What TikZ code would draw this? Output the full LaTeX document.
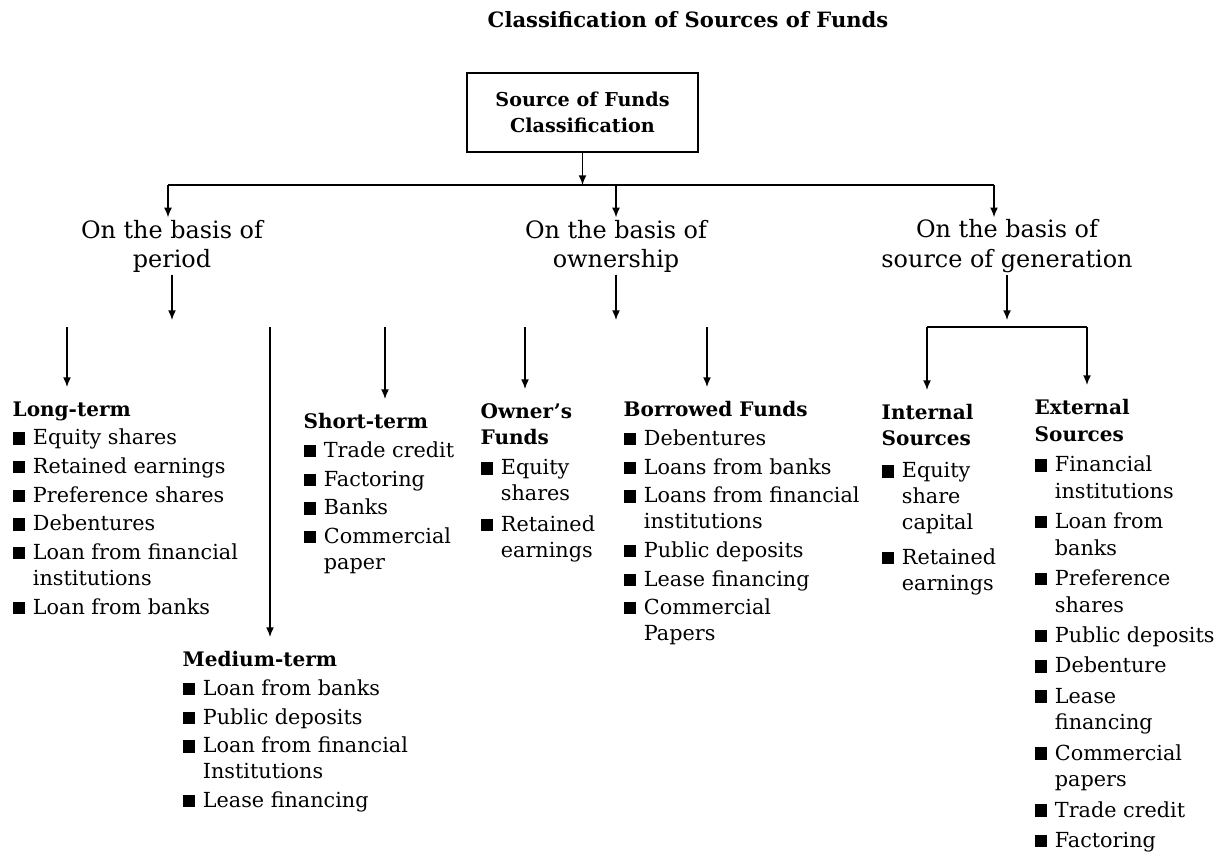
\documentclass[tikz,border=0pt]{standalone}
\usepackage{fontspec}
\setmainfont{DejaVu Serif}
\usetikzlibrary{arrows.meta,positioning}
\newcommand{\sqb}{\rule[0.2pt]{7pt}{7pt}\hspace{4.5pt}}
\newcommand{\sqi}{\hspace*{11.5pt}}
\newcommand{\hd}[1]{{\fontsize{11.4}{14.8}\selectfont\bfseries #1}}

\begin{document}
\begin{tikzpicture}[
    >={Latex[length=5.5pt,width=4.5pt]},
    line width=0.8pt,
    basis/.style={align=center, inner sep=1pt, font=\fontsize{13.6}{16.6}\selectfont},
    group/.style={align=left, anchor=north west, inner sep=0pt, font=\fontsize{11.8}{14.8}\selectfont},
    drop/.style={->, shorten >=0.28cm}
]
    \useasboundingbox (0,0) rectangle (24.52,-17.04);

    % Title and root box
    \node[font=\fontsize{12}{14}\selectfont\bfseries] (title) at (13.76,-0.40) {Classification of Sources of Funds};
    \node[draw, line width=1pt, align=center, minimum width=4.62cm, minimum height=1.58cm, font=\fontsize{10.9}{14.7}\selectfont\bfseries] (root) at (11.65,-2.25) {Source of Funds\\Classification};

    % Three bases
    \node[basis] (period) at (3.44,-4.92) {On the basis of\\period};
    \node[basis] (owner) at (12.32,-4.92) {On the basis of\\ownership};
    \node[basis] (source) at (20.14,-4.92) {On the basis of\\source of generation};

    \coordinate (busL) at (3.36,-3.70);
    \coordinate (busR) at (19.88,-3.70);
    \draw[->] (root.south) -- (root.south |- busL);
    \draw[line width=1pt] (busL) -- (busR);
    \draw[->] (busL) -- (busL |- period.north);
    \draw[->] (owner.north |- busL) -- (owner.north);
    \draw[->] (busR) -- (busR |- source.north);

    % Period
    \node[group] (long) at (0.24,-8.02) {\hd{Long-term}\\[1.5pt]
        \sqb Equity shares\\[1.5pt]
        \sqb Retained earnings\\[1.5pt]
        \sqb Preference shares\\[1.5pt]
        \sqb Debentures\\[1.5pt]
        \sqb Loan from financial\\
        \sqi institutions\\[1.5pt]
        \sqb Loan from banks};
    \node[group] (short) at (6.06,-8.26) {\hd{Short-term}\\[1.5pt]
        \sqb Trade credit\\[1.5pt]
        \sqb Factoring\\[1.5pt]
        \sqb Banks\\[1.5pt]
        \sqb Commercial\\
        \sqi paper};
    \node[group] (medium) at (3.64,-13.02) {\hd{Medium-term}\\[1.5pt]
        \sqb Loan from banks\\[1.5pt]
        \sqb Public deposits\\[1.5pt]
        \sqb Loan from financial\\
        \sqi Institutions\\[1.5pt]
        \sqb Lease financing};

    % Ownership
    \node[group] (ownf) at (9.60,-8.06) {\hd{Owner’s}\\
        \hd{Funds}\\[2.5pt]
        \sqb Equity\\
        \sqi shares\\[2.5pt]
        \sqb Retained\\
        \sqi earnings};
    \node[group] (borf) at (12.46,-8.02) {\hd{Borrowed Funds}\\[1.5pt]
        \sqb Debentures\\[1.5pt]
        \sqb Loans from banks\\[1.5pt]
        \sqb Loans from financial\\
        \sqi institutions\\[1.5pt]
        \sqb Public deposits\\[1.5pt]
        \sqb Lease financing\\[1.5pt]
        \sqb Commercial\\
        \sqi Papers};

    % Source of generation
    \node[group] (intl) at (17.62,-8.08) {\hd{Internal}\\
        \hd{Sources}\\[3.4pt]
        \sqb Equity\\
        \sqi share\\
        \sqi capital\\[5pt]
        \sqb Retained\\
        \sqi earnings};
    \node[group, font=\fontsize{11.8}{15.2}\selectfont] (extl) at (20.68,-7.98) {\hd{External}\\
        \hd{Sources}\\[2pt]
        \sqb Financial\\
        \sqi institutions\\[2pt]
        \sqb Loan from\\
        \sqi banks\\[2pt]
        \sqb Preference\\
        \sqi shares\\[2pt]
        \sqb Public deposits\\[2pt]
        \sqb Debenture\\[2pt]
        \sqb Lease\\
        \sqi financing\\[2pt]
        \sqb Commercial\\
        \sqi papers\\[2pt]
        \sqb Trade credit\\[2pt]
        \sqb Factoring};

    % Arrows below the bases
    \coordinate (pend) at (0,-6.40);
    \draw[->] (period.south) -- (period.south |- pend);
    \draw[->] (owner.south) -- (owner.south |- pend);
    \draw[->] (source.south) -- (source.south |- pend);

    \coordinate (sLong) at (1.34,-6.54);
    \coordinate (sMedium) at (5.40,-6.54);
    \coordinate (sShort) at (7.70,-6.54);
    \coordinate (sOwn) at (10.50,-6.54);
    \coordinate (sBor) at (14.14,-6.54);
    \draw[drop] (sLong) -- (sLong |- long.north);
    \draw[drop] (sMedium) -- (sMedium |- medium.north);
    \draw[drop] (sShort) -- (sShort |- short.north);
    \draw[drop] (sOwn) -- (sOwn |- ownf.north);
    \draw[drop] (sBor) -- (sBor |- borf.north);

    \coordinate (brkL) at (18.54,-6.54);
    \coordinate (brkR) at (21.74,-6.54);
    \draw (brkL) -- (brkR);
    \draw[drop] (brkL) -- (brkL |- intl.north);
    \draw[drop] (brkR) -- (brkR |- extl.north);
\end{tikzpicture}
\end{document}
